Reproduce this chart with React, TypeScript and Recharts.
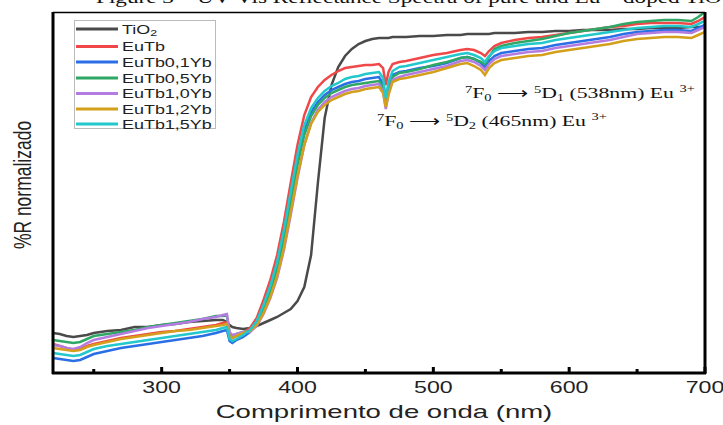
import React from 'react';
import { LineChart, Line, XAxis, YAxis } from 'recharts';

// wavelength grid (nm)
const wavelengths = [
  220, 225, 230, 235, 240, 245, 250, 260, 270, 280, 290, 300, 310, 320, 330, 340, 345, 348, 350, 352, 355,
  360, 365, 370, 375, 380, 385, 390, 395, 400, 405, 410, 415, 420, 425, 430, 435, 440, 445, 450, 455, 460,
  463, 465, 467, 470, 475, 480, 490, 500, 510, 520,
  525, 530, 535, 538, 541, 545, 550,
  560, 570, 580, 590, 600, 610, 620, 630, 640, 650, 660, 670, 680, 690, 695, 700,
];

// %R normalizado (arbitrary units)
const tio2 = [
  40, 39, 37, 36, 37, 38, 40, 42, 43, 46, 46, 48, 49, 51, 52, 53, 53, 51, 48, 46, 45,
  44, 45, 47, 50, 53, 56, 60, 64, 72, 86, 118, 190, 255, 288, 306, 317, 324, 329, 332, 334, 335,
  335, 335, 335, 336, 336, 336, 337, 337, 338, 338,
  339, 339, 339, 339, 339, 340, 340,
  340, 341, 341, 342, 342, 343, 343, 343, 344, 344, 345, 345, 345, 346, 346, 346,
];
const euTb = [
  29, 27, 25, 23, 24, 27, 29, 32, 35, 37, 39, 41, 42, 44, 46, 48, 50, 51, 37, 35, 37,
  40, 45, 55, 73, 93, 118, 151, 190, 228, 258, 276, 286, 293, 298, 302, 305, 306, 307, 308, 308, 309,
  305, 288, 301, 309, 311, 312, 315, 318, 320, 323,
  324, 323, 320, 317, 322, 327, 330,
  333, 335, 336, 338, 340, 342, 344, 346, 347, 349, 350, 350, 350, 349, 352, 356,
];
const euTb01Yb = [
  15, 14, 13, 12, 13, 16, 19, 22, 25, 27, 29, 31, 33, 35, 37, 40, 42, 43, 32, 30, 33,
  36, 41, 50, 65, 83, 107, 138, 175, 213, 243, 261, 271, 278, 283, 286, 289, 291, 292, 294, 295, 296,
  289, 271, 287, 298, 301, 302, 305, 307, 310, 315,
  316, 314, 310, 306, 312, 317, 320,
  322, 324, 325, 328, 330, 332, 334, 336, 339, 341, 342, 343, 343, 342, 345, 348,
];
const euTb05Yb = [
  33, 32, 31, 30, 31, 34, 37, 39, 41, 43, 46, 48, 50, 52, 54, 57, 57, 58, 40, 37, 39,
  41, 42, 49, 63, 81, 103, 133, 170, 208, 238, 257, 268, 275, 280, 283, 286, 288, 289, 290, 291, 292,
  286, 270, 285, 296, 300, 301, 304, 308, 311, 315,
  316, 314, 311, 309, 316, 324, 327,
  330, 332, 334, 337, 340, 342, 344, 346, 349, 351, 352, 353, 353, 352, 356, 361,
];
const euTb10Yb = [
  28, 27, 25, 24, 26, 30, 33, 36, 39, 42, 45, 47, 49, 51, 54, 56, 58, 59, 41, 38, 39,
  41, 41, 47, 59, 75, 95, 123, 158, 195, 228, 250, 263, 271, 276, 279, 282, 284, 285, 287, 288, 289,
  281, 264, 279, 293, 296, 298, 301, 304, 307, 312,
  313, 311, 307, 303, 309, 314, 317,
  319, 321, 322, 325, 327, 329, 331, 333, 336, 339, 340, 341, 341, 340, 343, 346,
];
const euTb12Yb = [
  25, 24, 23, 22, 23, 26, 28, 31, 34, 36, 38, 40, 42, 43, 45, 47, 48, 49, 37, 35, 37,
  40, 42, 48, 60, 76, 97, 125, 161, 197, 228, 249, 261, 268, 273, 276, 279, 281, 282, 284, 285, 286,
  280, 266, 278, 291, 294, 295, 298, 301, 305, 309,
  310, 307, 303, 298, 305, 310, 313,
  315, 317, 318, 321, 323, 325, 327, 329, 332, 334, 335, 336, 336, 335, 338, 341,
];
const euTb15Yb = [
  20, 19, 18, 17, 18, 21, 24, 27, 29, 31, 33, 35, 37, 39, 41, 43, 45, 46, 34, 32, 34,
  38, 43, 52, 68, 87, 111, 143, 181, 218, 248, 265, 275, 282, 287, 290, 294, 296, 297, 299, 300, 301,
  295, 275, 291, 302, 306, 307, 310, 313, 316, 319,
  320, 318, 315, 311, 317, 322, 325,
  327, 329, 330, 333, 335, 337, 339, 341, 343, 345, 346, 347, 347, 346, 349, 352,
];

const xTicks = [250, 300, 350, 400, 450, 500, 550, 600, 650, 700];

const series = [
  { key: 'tio2', name: 'TiO2', color: '#4a4a4a', values: tio2 },
  { key: 'euTb', name: 'EuTb', color: '#f04848', values: euTb },
  { key: 'euTb01Yb', name: 'EuTb0,1Yb', color: '#2a6fe6', values: euTb01Yb },
  { key: 'euTb05Yb', name: 'EuTb0,5Yb', color: '#2fa866', values: euTb05Yb },
  { key: 'euTb10Yb', name: 'EuTb1,0Yb', color: '#b47ce0', values: euTb10Yb },
  { key: 'euTb12Yb', name: 'EuTb1,2Yb', color: '#d4a01c', values: euTb12Yb },
  { key: 'euTb15Yb', name: 'EuTb1,5Yb', color: '#22c8cc', values: euTb15Yb },
];

const data = wavelengths.map((w, i) => {
  const row: Record<string, number> = { w };
  series.forEach((s) => { row[s.key] = s.values[i]; });
  return row;
});

const SANS = '"Liberation Sans", Arial, sans-serif';
const SERIF = '"Liberation Serif", "Times New Roman", serif';
// the source figure is stretched horizontally
const SX = 1.45;

const WaveTick = (props: any) => {
  const { x, y, payload } = props;
  const major = payload.value % 100 === 0;
  return (
    <g>
      <line x1={x} x2={x} y1={y} y2={y - (major ? 6 : 4)} stroke="#000" strokeWidth={3} />
      {major && (
        <text transform={`translate(${x} ${y + 20}) scale(${SX} 1)`} textAnchor="middle" fontFamily={SANS} fontSize={16} fill="#222">
          {payload.value}
        </text>
      )}
    </g>
  );
};

const Transition = ({ x, y, d, nm }: { x: number; y: number; d: string; nm: string }) => (
  <text transform={`translate(${x} ${y}) scale(${SX} 1)`} fontFamily={SERIF} fontSize={15} fill="#111">
    <tspan fontSize={10} dy={-5}>7</tspan>
    <tspan dy={5}>F</tspan>
    <tspan fontSize={10} dy={3}>0</tspan>
    <tspan dy={-3}> ⟶ </tspan>
    <tspan fontSize={10} dy={-5}>5</tspan>
    <tspan dy={5}>D</tspan>
    <tspan fontSize={10} dy={3}>{d}</tspan>
    <tspan dy={-3}> ({nm}nm) Eu </tspan>
    <tspan fontSize={10} dy={-6}>3+</tspan>
  </text>
);

const legendRows = [29, 46.5, 62, 78, 93.5, 109, 124];

export default function App() {
  return (
    <div style={{ position: 'absolute', left: 0, top: 0, width: 723, height: 425, background: '#fff', overflow: 'hidden' }}>
      <LineChart width={723} height={425} data={data} margin={{ top: 12, right: 18, bottom: 12, left: 53 }}>
        <XAxis
          dataKey="w"
          type="number"
          domain={[220, 700]}
          ticks={xTicks}
          interval={0}
          height={40}
          tickSize={0}
          tickMargin={0}
          tick={<WaveTick />}
          axisLine={false}
          allowDataOverflow
        />
        <YAxis hide domain={[0, 361]} allowDataOverflow />
        {series.map((s) => (
          <Line
            key={s.key}
            dataKey={s.key}
            name={s.name}
            stroke={s.color}
            strokeWidth={2.5}
            dot={false}
            type="linear"
            isAnimationActive={false}
          />
        ))}
      </LineChart>
      <svg width={723} height={425} style={{ position: 'absolute', left: 0, top: 0, pointerEvents: 'none' }}>
        <text transform={`translate(96 3) scale(${SX} 1)`} fontFamily={SERIF} fontSize={16} fill="#111">
          Figure 3 – UV-Vis Reflectance Spectra of pure and Eu<tspan fontSize={11} dy={-5}>3+</tspan><tspan dy={5}> doped TiO</tspan>
        </text>
        {/* plot frame */}
        <line x1={53} x2={705} y1={12.5} y2={12.5} stroke="#000" strokeWidth={1.5} />
        <line x1={53} x2={53} y1={12} y2={374} stroke="#000" strokeWidth={3} />
        <line x1={705} x2={705} y1={12} y2={374} stroke="#000" strokeWidth={3} />
        <line x1={52} x2={706} y1={373} y2={373} stroke="#000" strokeWidth={3} />
        {/* legend */}
        <rect x={74.5} y={20.5} width={141} height={108} fill="#fff" stroke="#bbb" strokeWidth={1} />
        {series.map((s, i) => {
          const cy = legendRows[i];
          return (
            <g key={s.key}>
              <line x1={76} x2={118} y1={cy} y2={cy} stroke={s.color} strokeWidth={3} />
              <text transform={`translate(122 ${cy + 4.5}) scale(1.38 1)`} fontFamily={SANS} fontSize={13} fill="#222">
                {s.name === 'TiO2' ? (
                  <>TiO<tspan fontSize={9} dy={2}>2</tspan></>
                ) : (
                  s.name
                )}
              </text>
            </g>
          );
        })}
        <Transition x={465} y={98} d="1" nm="538" />
        <Transition x={377} y={126} d="2" nm="465" />
        <text transform="translate(384 418) scale(1.53 1)" textAnchor="middle" fontFamily={SANS} fontSize={18} fill="#222">
          Comprimento de onda (nm)
        </text>
        <text transform="translate(31 185) rotate(-90) scale(1 1.35)" textAnchor="middle" fontFamily={SANS} fontSize={17.5} fill="#222">
          %R normalizado
        </text>
      </svg>
    </div>
  );
}
